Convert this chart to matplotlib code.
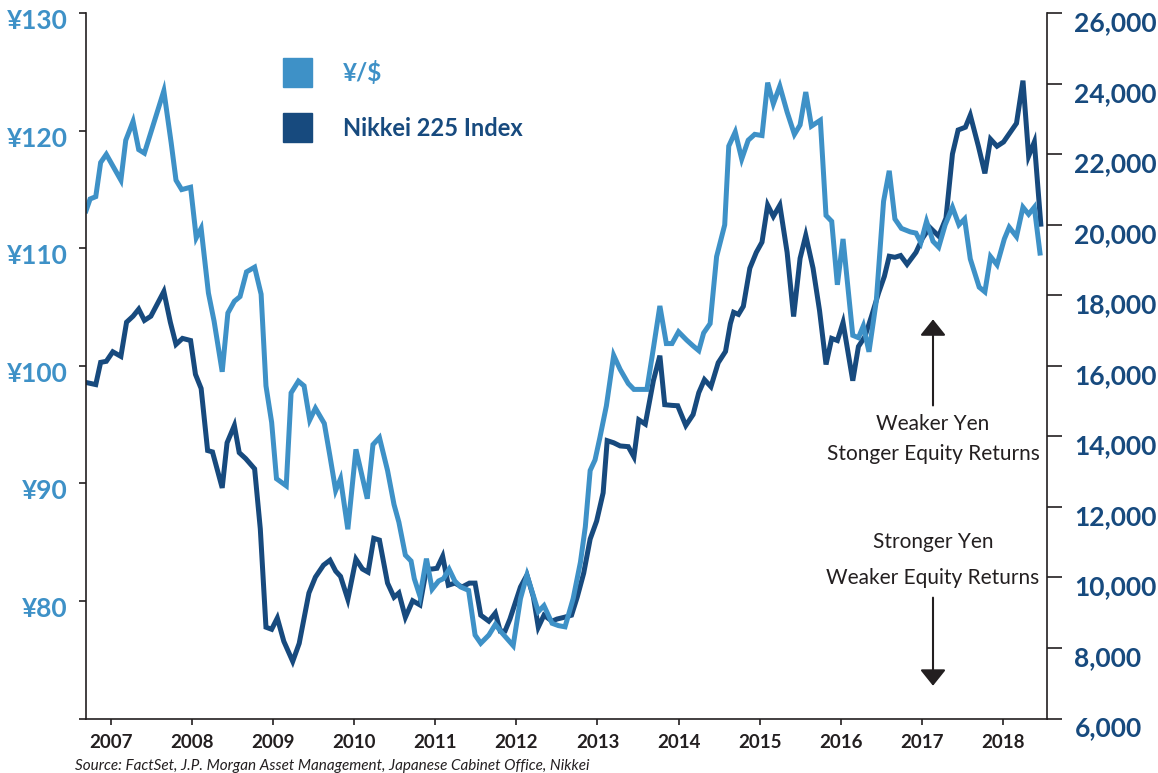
import numpy as np
import matplotlib
matplotlib.use("Agg")
import matplotlib.pyplot as plt
from matplotlib.transforms import ScaledTranslation

plt.rcParams['font.family'] = ['Lato', 'DejaVu Sans']

LIGHT = '#3E91C7'
DARK = '#174A7E'
INK = '#231F20'

# Yen per dollar (decimal year, value)
yen_t = [2006.69, 2006.74, 2006.81, 2006.87, 2006.94, 2007.12, 2007.18, 2007.27, 2007.34, 2007.41,
         2007.65, 2007.74, 2007.80, 2007.87, 2007.98, 2008.05, 2008.11, 2008.20, 2008.27, 2008.37,
         2008.44, 2008.52, 2008.59, 2008.67, 2008.77, 2008.85, 2008.91, 2008.98, 2009.04, 2009.16,
         2009.22, 2009.31, 2009.38, 2009.45, 2009.52, 2009.63, 2009.70, 2009.77, 2009.83, 2009.92,
         2010.02, 2010.16, 2010.23, 2010.31, 2010.41, 2010.49, 2010.55, 2010.63, 2010.70, 2010.74,
         2010.81, 2010.89, 2010.96, 2011.04, 2011.10, 2011.17, 2011.24, 2011.31, 2011.41, 2011.49,
         2011.56, 2011.66, 2011.74, 2011.82, 2011.96, 2012.05, 2012.13, 2012.27, 2012.34, 2012.44,
         2012.52, 2012.60, 2012.70, 2012.79, 2012.85, 2012.91, 2012.97, 2013.03, 2013.11, 2013.20,
         2013.28, 2013.38, 2013.45, 2013.61, 2013.69, 2013.77, 2013.85, 2013.92, 2014.00, 2014.10,
         2014.18, 2014.25, 2014.31, 2014.39, 2014.47, 2014.57, 2014.62, 2014.70, 2014.78, 2014.86,
         2014.94, 2015.03, 2015.10, 2015.17, 2015.25, 2015.34, 2015.43, 2015.50, 2015.57, 2015.64,
         2015.75, 2015.82, 2015.89, 2015.96, 2016.03, 2016.15, 2016.22, 2016.28, 2016.35, 2016.44,
         2016.53, 2016.60, 2016.67, 2016.75, 2016.86, 2016.93, 2016.99, 2017.06, 2017.14, 2017.21,
         2017.29, 2017.38, 2017.46, 2017.53, 2017.60, 2017.71, 2017.78, 2017.85, 2017.93, 2018.02,
         2018.08, 2018.17, 2018.25, 2018.32, 2018.39, 2018.46]
yen_v = [113.2, 114.2, 114.4, 117.3, 118.0, 115.8, 119.2, 120.8, 118.4, 118.1,
         123.4, 119.0, 115.8, 115.0, 115.2, 110.9, 111.7, 106.2, 103.8, 99.5,
         104.5, 105.5, 105.9, 108.0, 108.4, 106.1, 98.3, 95.2, 90.4, 89.8,
         97.7, 98.7, 98.3, 95.4, 96.4, 95.1, 92.3, 89.4, 90.4, 86.1,
         92.9, 88.7, 93.3, 93.9, 91.1, 88.2, 86.7, 83.9, 83.4, 81.9,
         80.4, 83.6, 81.0, 81.7, 81.9, 82.7, 81.7, 81.2, 80.9, 77.1,
         76.4, 77.1, 78.0, 77.3, 76.2, 80.2, 82.2, 79.1, 79.6, 78.1,
         77.9, 77.8, 80.2, 83.3, 86.3, 91.1, 92.0, 93.9, 96.6, 100.9,
         99.7, 98.5, 98.0, 98.0, 101.5, 105.1, 101.9, 101.9, 102.9, 102.2,
         101.7, 101.3, 102.8, 103.6, 109.3, 112.0, 118.7, 119.9, 117.6, 119.2,
         119.7, 119.6, 124.1, 122.3, 123.8, 121.6, 119.7, 120.5, 123.3, 120.4,
         120.9, 112.8, 112.3, 106.9, 110.8, 102.6, 102.4, 103.4, 101.2, 105.5,
         114.0, 116.6, 112.5, 111.7, 111.4, 111.3, 110.5, 112.3, 110.6, 110.1,
         112.0, 113.5, 112.0, 112.5, 109.1, 106.7, 106.3, 109.3, 108.6, 110.8,
         111.8, 111.0, 113.5, 112.9, 113.5, 109.6]

# Nikkei 225 index level
nik_t = [2006.69, 2006.81, 2006.87, 2006.94, 2007.02, 2007.12, 2007.19, 2007.27, 2007.34, 2007.41,
         2007.49, 2007.65, 2007.73, 2007.80, 2007.88, 2007.98, 2008.04, 2008.11, 2008.19, 2008.25,
         2008.37, 2008.43, 2008.52, 2008.58, 2008.66, 2008.77, 2008.84, 2008.91, 2008.98, 2009.05,
         2009.13, 2009.24, 2009.32, 2009.44, 2009.52, 2009.62, 2009.70, 2009.77, 2009.83, 2009.92,
         2010.02, 2010.10, 2010.17, 2010.24, 2010.31, 2010.41, 2010.49, 2010.55, 2010.63, 2010.72,
         2010.81, 2010.89, 2010.96, 2011.02, 2011.09, 2011.16, 2011.24, 2011.33, 2011.42, 2011.49,
         2011.56, 2011.66, 2011.74, 2011.80, 2011.86, 2011.92, 2012.05, 2012.13, 2012.21, 2012.27,
         2012.34, 2012.44, 2012.50, 2012.59, 2012.68, 2012.75, 2012.83, 2012.91, 2012.99, 2013.07,
         2013.12, 2013.20, 2013.28, 2013.38, 2013.45, 2013.51, 2013.59, 2013.69, 2013.77, 2013.83,
         2013.92, 2013.99, 2014.09, 2014.18, 2014.25, 2014.32, 2014.40, 2014.49, 2014.58, 2014.64,
         2014.68, 2014.74, 2014.80, 2014.88, 2014.96, 2015.03, 2015.10, 2015.17, 2015.25, 2015.34,
         2015.42, 2015.50, 2015.57, 2015.66, 2015.74, 2015.82, 2015.89, 2015.96, 2016.03, 2016.15,
         2016.22, 2016.30, 2016.38, 2016.47, 2016.54, 2016.60, 2016.67, 2016.74, 2016.82, 2016.93,
         2017.01, 2017.10, 2017.21, 2017.30, 2017.38, 2017.45, 2017.54, 2017.60, 2017.70, 2017.78,
         2017.85, 2017.93, 2018.01, 2018.17, 2018.25, 2018.32, 2018.39, 2018.47]
nik_v = [15530, 15470, 16100, 16130, 16400, 16270, 17240, 17410, 17610, 17290,
         17410, 18110, 17240, 16610, 16780, 16720, 15760, 15360, 13600, 13560,
         12540, 13820, 14310, 13540, 13370, 13080, 11380, 8590, 8530, 8850,
         8190, 7620, 8130, 9560, 10010, 10350, 10490, 10180, 10030, 9380,
         10520, 10240, 10150, 11110, 11060, 9840, 9440, 9560, 8870, 9340,
         9220, 10240, 10240, 10260, 10600, 9780, 9840, 9730, 9840, 9840,
         8930, 8760, 8990, 8480, 8480, 8820, 9730, 10070, 9440, 8590,
         8930, 8760, 8820, 8870, 8930, 9440, 10120, 11090, 11600, 12400,
         13880, 13820, 13730, 13710, 13420, 14470, 14350, 15580, 16290, 14900,
         14880, 14870, 14310, 14620, 15240, 15610, 15410, 16090, 16410, 17200,
         17520, 17460, 17690, 18770, 19220, 19510, 20560, 20240, 20560, 19220,
         17400, 19050, 19700, 18770, 17570, 16040, 16780, 16720, 17230, 15580,
         16550, 16830, 17400, 18080, 18540, 19110, 19080, 19130, 18880, 19220,
         19620, 19930, 19680, 20190, 22010, 22690, 22770, 23110, 22230, 21460,
         22430, 22230, 22350, 22880, 24090, 21950, 22350, 20020]

years = list(range(2007, 2019))
yen_ticks = [70, 80, 90, 100, 110, 120, 130]
yen_labels = ['', '¥80', '¥90', '¥100', '¥110', '¥120', '¥130']
nik_ticks = list(range(6000, 26001, 2000))

fig = plt.figure(figsize=(11.58, 7.73), dpi=100)
ax = fig.add_axes([0.0743, 0.0705, 0.8296, 0.9123])
ax2 = ax.twinx()

ax2.plot(nik_t, nik_v, color=DARK, lw=3.6, solid_joinstyle='miter')
ax.plot(yen_t, yen_v, color=LIGHT, lw=3.6, solid_joinstyle='miter')
ax.set_zorder(ax2.get_zorder() + 1)
ax.patch.set_visible(False)

ax.set_xlim(2006.69, 2018.543)
ax.set_ylim(70, 130)
ax2.set_ylim(6000, 26000)

ax.set_xticks(years)
ax.set_xticklabels([str(y) for y in years])
ax.set_yticks(yen_ticks)
ax.set_yticklabels(yen_labels)
ax2.set_yticks(nik_ticks)
ax2.set_yticklabels([f'{v:,}' for v in nik_ticks])

for a in (ax, ax2):
    a.spines['top'].set_visible(False)
    for s in a.spines.values():
        s.set_color(INK)
        s.set_linewidth(1.2)
ax.spines['right'].set_visible(False)
ax2.spines['left'].set_visible(False)
ax2.spines['bottom'].set_visible(False)

ax.tick_params(axis='x', direction='out', length=4, width=1.2, color=INK, pad=7,
               labelsize=13.5, labelcolor=INK)
ax.tick_params(axis='y', direction='out', length=5, width=1.2, color=INK, pad=8,
               labelsize=19, labelcolor=LIGHT)
ax2.tick_params(axis='y', direction='out', length=11, width=1.2, color=INK, pad=9,
                labelsize=19, labelcolor=DARK)
for lab in ax.get_xticklabels():
    lab.set_fontweight('bold')
# value labels sit a little below their ticks in the original
for lab in ax.get_yticklabels():
    lab.set_fontweight('bold')
    lab.set_transform(lab.get_transform() + ScaledTranslation(0, -6 / 100, fig.dpi_scale_trans))
for lab in ax2.get_yticklabels():
    lab.set_fontweight('bold')
    lab.set_transform(lab.get_transform() + ScaledTranslation(0, -8 / 100, fig.dpi_scale_trans))

# legend as coloured squares
fig.patches.append(plt.Rectangle((283 / 1158, 1 - 87 / 773), 29 / 1158, 29 / 773,
                                 transform=fig.transFigure, color=LIGHT))
fig.patches.append(plt.Rectangle((283 / 1158, 1 - 142 / 773), 29 / 1158, 29 / 773,
                                 transform=fig.transFigure, color=DARK))
fig.text(343 / 1158, 1 - 73 / 773, '¥/$', color=LIGHT, fontsize=17.5, fontweight='bold', va='center')
fig.text(343 / 1158, 1 - 128 / 773, 'Nikkei 225 Index', color=DARK, fontsize=17,
         fontweight='bold', va='center')


def px2yen(py):
    return 130 - (py - 13.3) / 11.74


# direction annotations
head = '-|>,head_width=0.36,head_length=0.45'
ax.annotate('', xy=(2017.14, px2yen(319)), xytext=(2017.14, px2yen(405)),
            arrowprops=dict(arrowstyle=head, color=INK, lw=1.5, mutation_scale=22,
                            shrinkA=0, shrinkB=0))
ax.text(2017.14, px2yen(438.5), 'Weaker Yen\nStonger Equity Returns', ha='center',
        va='center', fontsize=15, color=INK, linespacing=1.6)
ax.text(2017.14, px2yen(559.5), 'Stronger Yen\nWeaker Equity Returns', ha='center',
        va='center', fontsize=15, color=INK, linespacing=2.0)
ax.annotate('', xy=(2017.14, px2yen(685)), xytext=(2017.14, px2yen(597)),
            arrowprops=dict(arrowstyle=head, color=INK, lw=1.5, mutation_scale=22,
                            shrinkA=0, shrinkB=0))

fig.text(75 / 1158, 1 - 766 / 773, 'Source: FactSet, J.P. Morgan Asset Management, Japanese Cabinet Office, Nikkei',
         fontsize=11, style='italic', color=INK, va='center')

fig.savefig('out.png', dpi=100)
